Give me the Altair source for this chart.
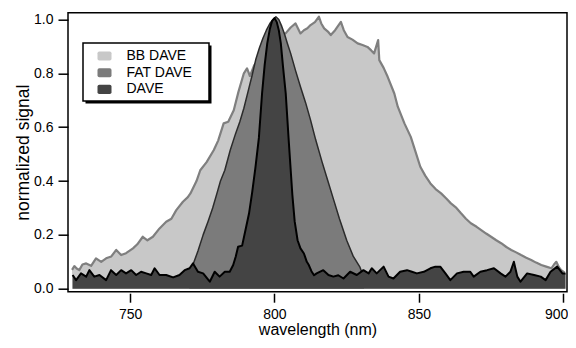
import altair as alt
import pandas as pd

# ---------------- data ----------------
SERIES = ["BB DAVE", "FAT DAVE", "DAVE"]

BB_WL = [729.9, 730.7, 731.5, 732.4, 733.5, 734.8, 736.5, 738.2, 740.0, 741.7,
         743.5, 745.2, 746.9, 748.6, 751.0, 752.5, 754.4, 756.0, 757.9, 760.2,
         762.5, 764.3, 766.0, 768.3, 770.0, 770.9, 773.0, 774.3, 776.5, 779.0,
         780.5, 782.4, 784.0, 785.9, 787.5, 789.4, 790.5, 791.5, 793.0, 796.0,
         799.0, 802.0, 804.0, 805.6, 807.3, 809.0, 810.2, 811.4, 812.5, 814.0,
         815.4, 816.2, 817.2, 818.5, 819.5, 821.0, 823.0, 824.0, 825.3, 827.0,
         828.8, 830.5, 832.2, 833.5, 834.5, 835.9, 836.3, 837.8, 839.2, 841.5,
         842.7, 845.0, 847.2, 848.5, 850.5, 852.2, 854.0, 855.8, 857.7, 859.5,
         861.1, 863.0, 864.6, 866.3, 868.0, 870.0, 871.6, 873.3, 875.0, 876.8,
         878.5, 880.3, 882.0, 883.7, 885.4, 887.2, 888.9, 890.6, 892.4, 894.1,
         895.9, 896.8, 897.6, 898.5, 899.3, 900.5]
BB_VAL = [0.070, 0.084, 0.075, 0.069, 0.090, 0.094, 0.085, 0.113, 0.100, 0.113,
          0.120, 0.144, 0.125, 0.132, 0.150, 0.165, 0.193, 0.180, 0.193, 0.224,
          0.249, 0.260, 0.292, 0.323, 0.340, 0.354, 0.400, 0.440, 0.470, 0.515,
          0.550, 0.614, 0.620, 0.663, 0.730, 0.800, 0.818, 0.790, 0.830, 0.870,
          0.910, 0.940, 0.950, 0.970, 0.985, 0.948, 0.960, 0.967, 0.979, 0.990,
          1.010, 0.985, 0.967, 0.955, 0.942, 0.960, 0.991, 0.960, 0.935, 0.925,
          0.911, 0.905, 0.898, 0.885, 0.874, 0.923, 0.849, 0.820, 0.787, 0.725,
          0.676, 0.614, 0.564, 0.520, 0.453, 0.420, 0.391, 0.370, 0.354, 0.335,
          0.317, 0.300, 0.280, 0.260, 0.243, 0.230, 0.218, 0.205, 0.193, 0.180,
          0.169, 0.155, 0.144, 0.135, 0.125, 0.115, 0.107, 0.097, 0.088, 0.082,
          0.076, 0.090, 0.100, 0.080, 0.069, 0.060]

FAT_WL = [770.5, 771.8, 773.5, 775.3, 777.0, 778.6, 780.1, 781.3, 782.8, 784.7,
          786.5, 788.0, 789.4, 790.8, 792.2, 793.5, 794.8, 796.0, 797.2, 798.4,
          799.5, 800.5, 801.5, 802.5, 803.5, 804.5, 805.6, 807.3, 809.0, 810.8,
          812.5, 814.3, 816.5, 818.5, 820.5, 822.5, 825.0, 827.3, 829.6, 831.0]
FAT_VAL = [0.040, 0.090, 0.140, 0.200, 0.250, 0.300, 0.355, 0.400, 0.440, 0.515,
           0.575, 0.620, 0.670, 0.730, 0.790, 0.850, 0.895, 0.930, 0.960, 0.985,
           1.000, 1.010, 1.000, 0.975, 0.945, 0.910, 0.874, 0.810, 0.750, 0.690,
           0.626, 0.552, 0.470, 0.400, 0.330, 0.260, 0.180, 0.120, 0.080, 0.040]

DAVE_WL = [730.1, 731.3, 733.0, 734.8, 735.9, 737.6, 739.4, 741.7, 743.4, 745.2,
           746.9, 748.6, 750.4, 752.1, 753.8, 755.6, 757.3, 758.5, 760.2, 762.5,
           764.9, 767.1, 768.9, 770.6, 771.8, 773.5, 775.3, 777.6, 779.3, 781.0,
           782.8, 784.5, 785.7, 786.6, 787.4, 788.8, 790.0, 791.2, 792.3, 793.4,
           794.6, 795.7, 796.6, 797.5, 798.4, 799.2, 800.0, 800.8, 801.5, 802.2,
           803.0, 803.9, 805.0, 806.2, 807.0, 808.0, 809.0, 810.2, 811.2, 811.9,
           812.8, 813.7, 814.6, 816.9, 818.7, 820.4, 822.1, 823.9, 826.2, 828.5,
           830.8, 832.6, 833.7, 835.4, 837.8, 839.5, 841.2, 843.5, 845.9, 847.6,
           849.3, 851.7, 854.0, 855.7, 857.4, 859.2, 860.9, 863.2, 865.5, 867.8,
           869.0, 871.3, 873.6, 876.0, 878.3, 880.0, 881.7, 882.9, 884.1, 885.2,
           887.5, 889.9, 892.2, 893.9, 895.6, 897.9, 899.7, 900.8]
DAVE_VAL = [0.051, 0.032, 0.057, 0.045, 0.069, 0.045, 0.051, 0.032, 0.069, 0.051,
            0.069, 0.057, 0.069, 0.051, 0.063, 0.057, 0.051, 0.076, 0.051, 0.051,
            0.042, 0.051, 0.069, 0.076, 0.094, 0.063, 0.057, 0.026, 0.063, 0.045,
            0.063, 0.063, 0.088, 0.120, 0.156, 0.160, 0.220, 0.280, 0.360, 0.450,
            0.560, 0.725, 0.830, 0.911, 0.965, 0.995, 1.005, 0.990, 0.960, 0.911,
            0.820, 0.725, 0.540, 0.348, 0.250, 0.180, 0.150, 0.131, 0.100, 0.088,
            0.065, 0.050, 0.057, 0.069, 0.051, 0.045, 0.050, 0.038, 0.063, 0.051,
            0.069, 0.057, 0.076, 0.057, 0.082, 0.045, 0.038, 0.063, 0.069, 0.063,
            0.057, 0.063, 0.076, 0.082, 0.082, 0.057, 0.032, 0.057, 0.063, 0.063,
            0.045, 0.063, 0.069, 0.076, 0.057, 0.045, 0.063, 0.100, 0.045, 0.026,
            0.057, 0.051, 0.045, 0.032, 0.063, 0.082, 0.057, 0.057]

X_TICKS = [750, 800, 850, 900]
Y_TICKS = [0.0, 0.2, 0.4, 0.6, 0.8, 1.0]

# ---------------- styling ----------------
FONT = "Liberation Sans"
FILLS = ["#c8c8c8", "#7b7b7b", "#444444"]
LINES = ["#7f7f7f", "#2b2b2b", "#000000"]
WIDTHS = [2.2, 1.5, 2.0]
W, H = 499, 279

SYMBOL = ("M -0.75 -0.65 L 0.75 -0.65 Q 1 -0.65 1 -0.4 L 1 0.4 Q 1 0.65 0.75 0.65 "
          "L -0.75 0.65 Q -1 0.65 -1 0.4 L -1 -0.4 Q -1 -0.65 -0.75 -0.65 Z")

xscale = alt.Scale(domain=[728.5, 901.3], nice=False, zero=False)
yscale = alt.Scale(domain=[-0.011, 1.025], nice=False, zero=False)
cscale = alt.Scale(domain=SERIES, range=FILLS)

xaxis = alt.Axis(title="wavelength (nm)", values=X_TICKS, format="d", domain=False,
                 grid=False, tickSize=9, tickWidth=1.5, tickColor="black",
                 labelFont=FONT, labelFontSize=14, labelColor="black", labelPadding=5,
                 labelFlush=6, labelFlushOffset=4.5,
                 titleFont=FONT, titleFontSize=16, titleFontWeight="normal",
                 titleColor="black", titlePadding=0, offset=1.5)
yaxis = alt.Axis(title="normalized signal", values=Y_TICKS, format=".1f", domain=False,
                 grid=False, tickSize=10, tickWidth=1.5, tickColor="black",
                 labelFont=FONT, labelFontSize=14, labelColor="black", labelPadding=5,
                 titleFont=FONT, titleFontSize=17.5, titleFontWeight="normal",
                 titleColor="black", titlePadding=1, labelFlush=False)
legend = alt.Legend(orient="none", legendX=29.5, legendY=36.3, title=None,
                    symbolType=SYMBOL, symbolSize=196, symbolStrokeWidth=0,
                    symbolOpacity=1, labelFont=FONT, labelFontSize=14,
                    labelColor="black", labelOffset=15, rowPadding=2.7,
                    padding=0, symbolOffset=0)


def layers(name, wl, val, lc, lw):
    df = pd.DataFrame({"wl": wl, "v": val, "series": name})
    enc = dict(
        x=alt.X("wl:Q", scale=xscale, axis=xaxis),
        y=alt.Y("v:Q", scale=yscale, axis=yaxis, stack=None),
    )
    area = alt.Chart(df).mark_area(clip=True, opacity=1, interpolate="linear").encode(
        color=alt.Color("series:N", scale=cscale, legend=legend), **enc)
    line = alt.Chart(df).mark_line(clip=True, color=lc, strokeWidth=lw,
                                   strokeJoin="round").encode(**enc)
    return [area, line]


charts = []
charts += layers(SERIES[0], BB_WL, BB_VAL, LINES[0], WIDTHS[0])
charts += layers(SERIES[1], FAT_WL, FAT_VAL, LINES[1], WIDTHS[1])
charts += layers(SERIES[2], DAVE_WL, DAVE_VAL, LINES[2], WIDTHS[2])

dummy = pd.DataFrame({"k": [0]})
frame = alt.Chart(dummy).mark_rect(fill=None, stroke="black", strokeWidth=1.5).encode(
    x=alt.value(0), x2=alt.value(W), y=alt.value(0), y2=alt.value(H))
shadow = alt.Chart(dummy).mark_rect(color="black").encode(
    x=alt.value(17.5), x2=alt.value(143.5), y=alt.value(32.8), y2=alt.value(90.8))
box = alt.Chart(dummy).mark_rect(fill="white", stroke="black", strokeWidth=1.5).encode(
    x=alt.value(15), x2=alt.value(141), y=alt.value(30.3), y2=alt.value(88.3))
charts += [frame, shadow, box]

chart = alt.layer(*charts).properties(
    width=W, height=H,
    background="white",
    autosize=alt.AutoSizeParams(type="none"),
    padding={"left": 60, "top": 4.7, "right": 1, "bottom": 48.3},
).configure_view(strokeWidth=0)

chart.save("out.html", embed_options={"renderer": "svg", "actions": False})
